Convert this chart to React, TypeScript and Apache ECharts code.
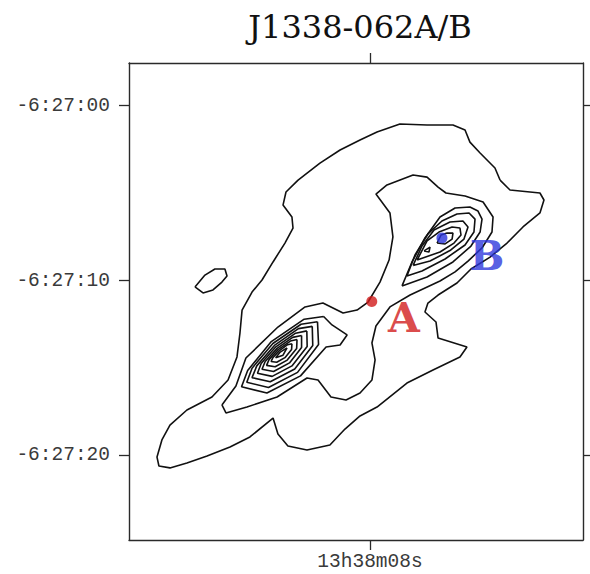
import React, { useEffect, useRef } from "react";
import * as echarts from "echarts";

// Offsets in arcsec: x relative to RA 13h38m08s, y relative to Dec -6:27:00
const TITLE = "J1338-062A/B";
const X_TICKS = [0];
const X_LABELS = ["13h38m08s"];
const Y_TICKS = [0, -10, -20];
const Y_LABELS = ["-6:27:00", "-6:27:10", "-6:27:20"];
const X_RANGE = [-13.77, 12.17];
const Y_RANGE = [-24.83, 2.43];

// lowest contour level
const OUTER = [
  [7.43, -4.26], [8.0, -4.83], [9.14, -4.94], [9.71, -5.0], [9.94, -5.4], [9.71, -6.14],
  [8.74, -6.94], [7.83, -7.86], [6.86, -8.66], [5.77, -9.34], [4.97, -10.14], [3.89, -10.83],
  [3.31, -11.29], [3.14, -11.8], [3.77, -12.37], [3.89, -13.29], [5.54, -13.8], [5.14, -14.37],
  [3.6, -15.11], [2.11, -15.86], [0.4, -17.23], [-0.57, -17.74], [-1.43, -18.49], [-2.29, -19.4],
  [-3.6, -19.69], [-4.69, -19.46], [-5.26, -18.77], [-5.54, -17.86], [-6.86, -18.94], [-8.0, -19.51],
  [-9.31, -20.03], [-10.46, -20.43], [-11.43, -20.71], [-12.06, -20.6], [-12.17, -20.09],
  [-11.89, -19.11], [-11.43, -18.26], [-10.46, -17.4], [-9.03, -16.66], [-8.11, -15.69],
  [-7.6, -14.37], [-7.43, -13.0], [-7.31, -11.69], [-6.74, -10.66], [-6.17, -9.97], [-5.54, -8.94],
  [-4.86, -7.86], [-4.4, -7.0], [-4.46, -6.37], [-4.97, -5.69], [-4.8, -4.94], [-4.11, -4.26],
  [-2.86, -3.29], [-1.71, -2.54], [-0.57, -1.97], [0.4, -1.51], [1.71, -1.06], [3.26, -1.11],
  [4.74, -1.11], [5.43, -1.4], [5.71, -2.09], [6.29, -2.71], [7.14, -3.57],
];

const ISLAND = [
  [-10.0, -10.37], [-9.54, -10.71], [-8.97, -10.54], [-8.46, -10.09], [-8.17, -9.74],
  [-8.29, -9.34], [-8.86, -9.34], [-9.43, -9.69],
];

// second level, joining both components
const LEVEL2 = [
  [-8.46, -17.11], [-7.66, -16.03], [-7.09, -14.43], [-5.26, -12.66], [-3.71, -11.51],
  [-2.69, -11.29], [-1.54, -11.86], [-0.74, -11.69], [-0.11, -11.23], [0.57, -10.09],
  [1.09, -8.83], [1.31, -7.51], [1.14, -6.14], [0.34, -5.06], [0.97, -4.54], [2.46, -3.97],
  [3.26, -4.09], [3.89, -4.66], [4.34, -5.0], [5.43, -5.17], [6.46, -5.51], [7.03, -6.37],
  [6.97, -7.23], [6.4, -8.14], [5.6, -8.89], [4.86, -9.51], [4.0, -10.03], [2.29, -10.83],
  [1.14, -11.51], [0.34, -12.6], [0.11, -13.57], [0.29, -14.54], [0.11, -15.69], [-0.57, -16.43],
  [-1.37, -16.83], [-2.23, -16.66], [-2.97, -15.69], [-3.6, -15.57], [-5.31, -16.66],
  [-7.03, -17.23], [-8.23, -17.57],
];

// component A contours (outermost to peak)
const A1 = [
  [-2.65, -12.06], [-2.17, -12.54], [-1.31, -13.11], [-1.71, -13.69], [-2.51, -13.8],
  [-3.97, -15.45], [-5.89, -16.43], [-7.34, -16.07], [-6.99, -15.14], [-5.64, -13.49], [-3.76, -12.21],
];
const A2 = [
  [-3.0, -12.36], [-2.94, -13.66], [-4.14, -15.25], [-5.8, -16.11], [-7.04, -15.82],
  [-6.74, -15.01], [-5.55, -13.6], [-3.94, -12.5],
];
const A3 = [
  [-3.3, -12.62], [-3.27, -13.71], [-4.3, -15.06], [-5.7, -15.79], [-6.74, -15.55],
  [-6.47, -14.88], [-5.46, -13.71], [-4.09, -12.75],
];
const A4 = [
  [-3.61, -12.88], [-3.59, -13.77], [-4.46, -14.88], [-5.59, -15.48], [-6.43, -15.3],
  [-6.22, -14.74], [-5.38, -13.79], [-4.25, -13.01],
];
const A5 = [
  [-3.91, -13.14], [-3.91, -13.83], [-4.6, -14.71], [-5.51, -15.2], [-6.17, -15.07],
  [-5.99, -14.63], [-5.31, -13.88], [-4.42, -13.25],
];
const A6 = [
  [-4.17, -13.37], [-4.19, -13.88], [-4.73, -14.55], [-5.42, -14.93], [-5.91, -14.85],
  [-5.77, -14.52], [-5.25, -13.95], [-4.55, -13.46],
];
const A7 = [
  [-4.46, -13.61], [-4.48, -13.94], [-4.86, -14.41], [-5.33, -14.67], [-5.65, -14.63],
  [-5.55, -14.41], [-5.19, -14.02], [-4.71, -13.67],
];
const A8 = [[-4.74, -13.85], [-4.97, -14.27], [-5.39, -14.41], [-5.13, -14.09]];

// component B contours
const B1 = [
  [1.83, -10.31], [2.4, -8.94], [3.14, -7.57], [4.0, -6.37], [4.86, -5.86], [5.71, -5.8],
  [6.17, -6.03], [6.4, -6.49], [6.29, -7.23], [5.77, -8.03], [4.74, -8.94], [3.26, -9.8],
];
const B2 = [
  [2.11, -9.74], [2.57, -8.54], [3.31, -7.34], [4.11, -6.6], [4.97, -6.2], [5.66, -6.14],
  [6.0, -6.49], [5.94, -7.23], [5.43, -7.97], [4.29, -8.77], [2.97, -9.46],
];
const B3 = [
  [2.46, -9.14], [2.97, -8.03], [3.66, -7.11], [4.57, -6.66], [5.31, -6.6], [5.6, -6.94],
  [5.37, -7.63], [4.57, -8.29], [3.43, -8.89],
];
const B4 = [
  [2.69, -8.83], [3.26, -7.74], [3.94, -7.23], [4.69, -6.94], [5.14, -7.0], [5.2, -7.4],
  [4.8, -7.86], [4.0, -8.37],
];
const B5 = [[3.83, -7.86], [4.06, -7.4], [4.4, -7.29], [4.74, -7.29], [4.69, -7.63], [4.29, -7.91]];
const B6 = [[3.09, -8.31], [3.43, -8.09], [3.37, -8.37]];

const CONTOURS = [OUTER, ISLAND, LEVEL2, A1, A2, A3, A4, A5, A6, A7, A8, B1, B2, B3, B4, B5, B6];

const POS_A = [0.1, -11.2];
const POS_B = [4.11, -7.57];
const LABEL_A = [1.94, -12.16];
const LABEL_B = [6.69, -8.6];

const RED = "#d11a1a";
const BLUE = "#2b35dc";

export default function App() {
  const ref = useRef<HTMLDivElement>(null);
  useEffect(() => {
    if (!ref.current) return;
    const chart = echarts.init(ref.current, null, { renderer: "svg" });
    const frame = { show: true, onZero: false, lineStyle: { color: "#2a2a2a", width: 1.4 } };
    const tick = { show: true, length: 10, inside: false, lineStyle: { color: "#2a2a2a", width: 1.3 } };
    const labelFont = { fontFamily: "'Liberation Mono', monospace", fontSize: 19.5, color: "#3a3a3a" };

    const contourSeries = CONTOURS.map((c) => ({
      type: "line",
      data: [...c, c[0]],
      xAxisIndex: 0,
      yAxisIndex: 0,
      symbol: "none",
      silent: true,
      lineStyle: { color: "#111", width: 1.6 },
      z: 2,
    }));

    const letter = (pos: number[], text: string, color: string) => ({
      type: "scatter",
      data: [pos],
      symbol: "circle",
      symbolSize: 1,
      itemStyle: { color: "rgba(0,0,0,0)" },
      silent: true,
      z: 5,
      label: {
        show: true,
        position: "inside",
        formatter: text,
        fontFamily: "'DejaVu Serif', serif",
        fontWeight: "bold",
        fontSize: 41,
        color,
      },
    });

    chart.setOption({
      animation: false,
      backgroundColor: "#fff",
      title: {
        text: TITLE,
        left: 355,
        top: 6,
        textAlign: "center",
        textStyle: { fontFamily: "'DejaVu Serif', serif", fontSize: 32, fontWeight: "normal", color: "#111" },
      },
      grid: { left: 129, top: 63, width: 454, height: 477, containLabel: false },
      xAxis: [
        {
          type: "value", position: "bottom", min: X_RANGE[0], max: X_RANGE[1],
          axisLine: frame, splitLine: { show: false },
          axisTick: { ...tick, customValues: X_TICKS },
          axisLabel: {
            ...labelFont, margin: 12, customValues: X_TICKS,
            formatter: (v: number) => X_LABELS[X_TICKS.indexOf(Math.round(v))] ?? "",
          },
        },
        {
          type: "value", position: "top", min: X_RANGE[0], max: X_RANGE[1],
          axisLine: frame, splitLine: { show: false },
          axisTick: { ...tick, customValues: X_TICKS },
          axisLabel: { show: false },
        },
      ],
      yAxis: [
        {
          type: "value", position: "left", min: Y_RANGE[0], max: Y_RANGE[1],
          axisLine: frame, splitLine: { show: false },
          axisTick: { ...tick, customValues: Y_TICKS },
          axisLabel: {
            ...labelFont, margin: 19, customValues: Y_TICKS,
            formatter: (v: number) => Y_LABELS[Y_TICKS.indexOf(Math.round(v))] ?? "",
          },
        },
        {
          type: "value", position: "right", min: Y_RANGE[0], max: Y_RANGE[1],
          axisLine: frame, splitLine: { show: false },
          axisTick: { ...tick, customValues: Y_TICKS },
          axisLabel: { show: false },
        },
      ],
      series: [
        ...contourSeries,
        { type: "scatter", data: [POS_A], symbolSize: 11, itemStyle: { color: RED }, silent: true, z: 6 },
        { type: "scatter", data: [POS_B], symbolSize: 11, itemStyle: { color: BLUE }, silent: true, z: 6 },
        letter(LABEL_A, "A", RED),
        letter(LABEL_B, "B", BLUE),
      ],
    });
    return () => chart.dispose();
  }, []);
  return (
    <div
      ref={ref}
      style={{ position: "absolute", left: 0, top: 0, width: 590, height: 574, background: "#fff" }}
    />
  );
}
